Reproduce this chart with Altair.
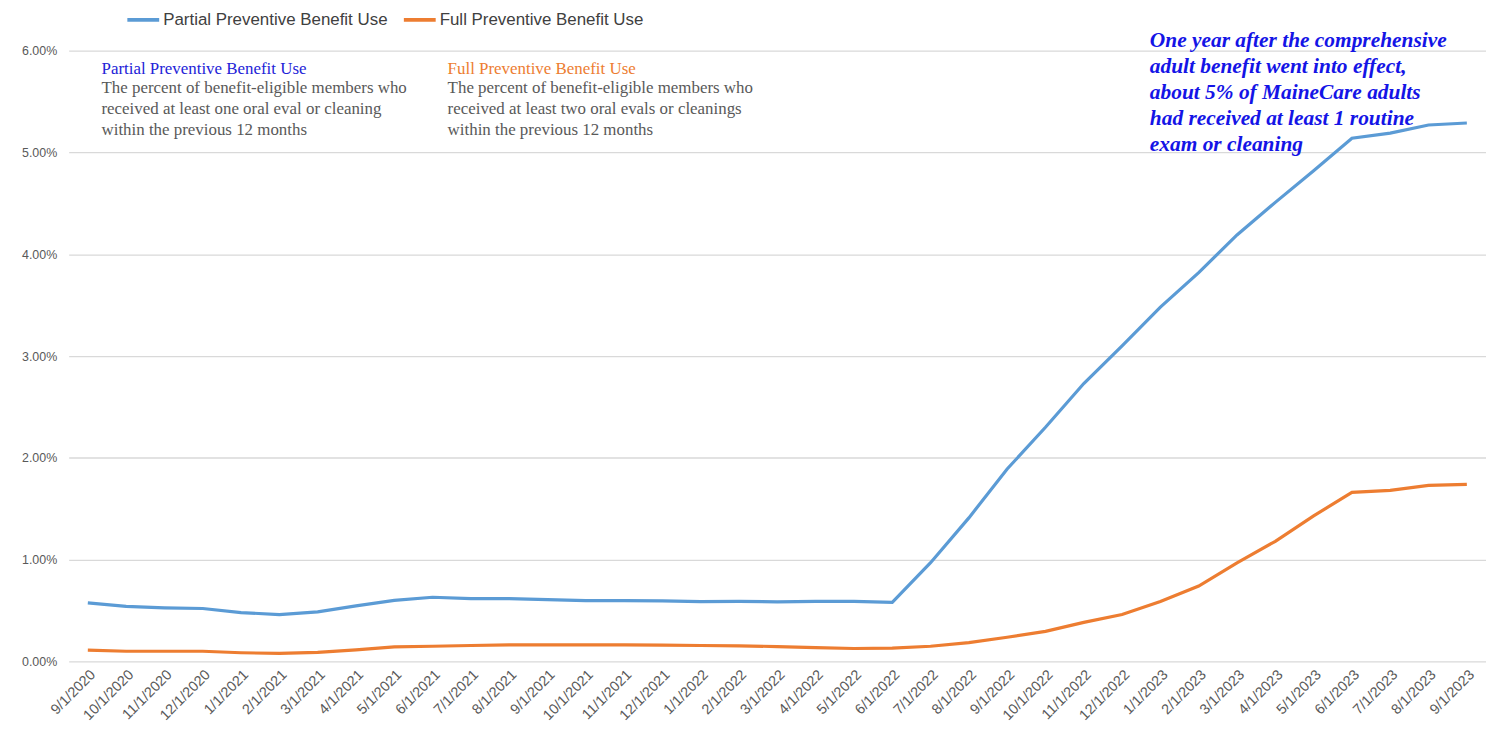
import altair as alt
import pandas as pd

dates = ["9/1/2020", "10/1/2020", "11/1/2020", "12/1/2020", "1/1/2021", "2/1/2021",
         "3/1/2021", "4/1/2021", "5/1/2021", "6/1/2021", "7/1/2021", "8/1/2021",
         "9/1/2021", "10/1/2021", "11/1/2021", "12/1/2021", "1/1/2022", "2/1/2022",
         "3/1/2022", "4/1/2022", "5/1/2022", "6/1/2022", "7/1/2022", "8/1/2022",
         "9/1/2022", "10/1/2022", "11/1/2022", "12/1/2022", "1/1/2023", "2/1/2023",
         "3/1/2023", "4/1/2023", "5/1/2023", "6/1/2023", "7/1/2023", "8/1/2023",
         "9/1/2023"]

# values in percent
partial = [0.575, 0.54, 0.526, 0.52, 0.48, 0.46, 0.487, 0.545, 0.60, 0.63, 0.617, 0.617,
           0.607, 0.597, 0.597, 0.594, 0.588, 0.59, 0.585, 0.59, 0.59, 0.58, 0.97, 1.41,
           1.89, 2.30, 2.73, 3.10, 3.48, 3.82, 4.19, 4.51, 4.82, 5.14, 5.19, 5.27, 5.29]
full = [0.11, 0.10, 0.10, 0.10, 0.085, 0.078, 0.088, 0.114, 0.143, 0.149, 0.156, 0.162,
        0.162, 0.162, 0.162, 0.159, 0.156, 0.153, 0.146, 0.136, 0.127, 0.13, 0.149, 0.185,
        0.237, 0.295, 0.383, 0.461, 0.588, 0.74, 0.968, 1.18, 1.43, 1.66, 1.68, 1.73, 1.74]

series_names = ["Partial Preventive Benefit Use", "Full Preventive Benefit Use"]
series_colors = ["#5B9BD5", "#ED7D31"]

rows = []
for name, vals in zip(series_names, [partial, full]):
    for d, v in zip(dates, vals):
        rows.append({"date": d, "series": name, "value": v / 100.0})
df = pd.DataFrame(rows)

lines = alt.Chart(df).mark_line(strokeWidth=3.2).encode(
    x=alt.X("date:O", sort=dates, title=None,
            axis=alt.Axis(labelAngle=-45, labelFontSize=14.5, labelColor="#595959",
                          labelFont="Liberation Sans", ticks=False, domain=False,
                          labelPadding=6, grid=False)),
    y=alt.Y("value:Q", title=None,
            scale=alt.Scale(domain=[0, 0.06], nice=False),
            axis=alt.Axis(format=".2%", values=[0, 0.01, 0.02, 0.03, 0.04, 0.05, 0.06],
                          labelFontSize=12.5, labelColor="#595959", labelFont="Liberation Sans",
                          ticks=False, domain=False, labelPadding=12,
                          gridColor="#d9d9d9", gridWidth=1.3)),
    color=alt.Color("series:N", sort=series_names, title=None,
                    scale=alt.Scale(domain=series_names, range=series_colors),
                    legend=alt.Legend(orient="none", direction="horizontal",
                                      legendX=57, legendY=-49,
                                      symbolType="stroke", symbolSize=1024,
                                      symbolStrokeWidth=4, labelFontSize=17,
                                      labelColor="#404040", labelFont="Liberation Sans",
                                      labelOffset=2, columnPadding=8,
                                      labelLimit=400)),
)

serif = "Liberation Serif"

left_title = alt.Chart().mark_text(
    align="left", baseline="top", font=serif, fontSize=17, color="#2323d8"
).encode(x=alt.value(33), y=alt.value(10), text=alt.value("Partial Preventive Benefit Use"))

left_body = alt.Chart().mark_text(
    align="left", baseline="top", font=serif, fontSize=17, color="#595959", lineHeight=21
).encode(x=alt.value(33), y=alt.value(30), text=alt.value([
    "The percent of benefit-eligible members who",
    "received at least one oral eval or cleaning",
    "within the previous 12 months"]))

mid_title = alt.Chart().mark_text(
    align="left", baseline="top", font=serif, fontSize=17, color="#ED7D31"
).encode(x=alt.value(381), y=alt.value(10), text=alt.value("Full Preventive Benefit Use"))

mid_body = alt.Chart().mark_text(
    align="left", baseline="top", font=serif, fontSize=17, color="#595959", lineHeight=21
).encode(x=alt.value(381), y=alt.value(30), text=alt.value([
    "The percent of benefit-eligible members who",
    "received at least two oral evals or cleanings",
    "within the previous 12 months"]))

right_note = alt.Chart().mark_text(
    align="left", baseline="top", font=serif, fontSize=21.5, fontStyle="italic",
    fontWeight="bold", color="#1414e6", lineHeight=26.3
).encode(x=alt.value(1087), y=alt.value(-21), text=alt.value([
    "One year after the comprehensive",
    "adult benefit went into effect,",
    "about 5% of MaineCare adults",
    "had received at least 1 routine",
    "exam or cleaning"]))

chart = alt.layer(lines, left_title, left_body, mid_title, mid_body, right_note).properties(
    width=1425, height=614,
    autosize=alt.AutoSizeParams(type="none"),
    padding={"left": 61, "top": 41, "right": 0, "bottom": 59},
    background="white",
).configure_view(stroke=None)

chart.save("out.html", embed_options={"renderer": "svg", "actions": False})
